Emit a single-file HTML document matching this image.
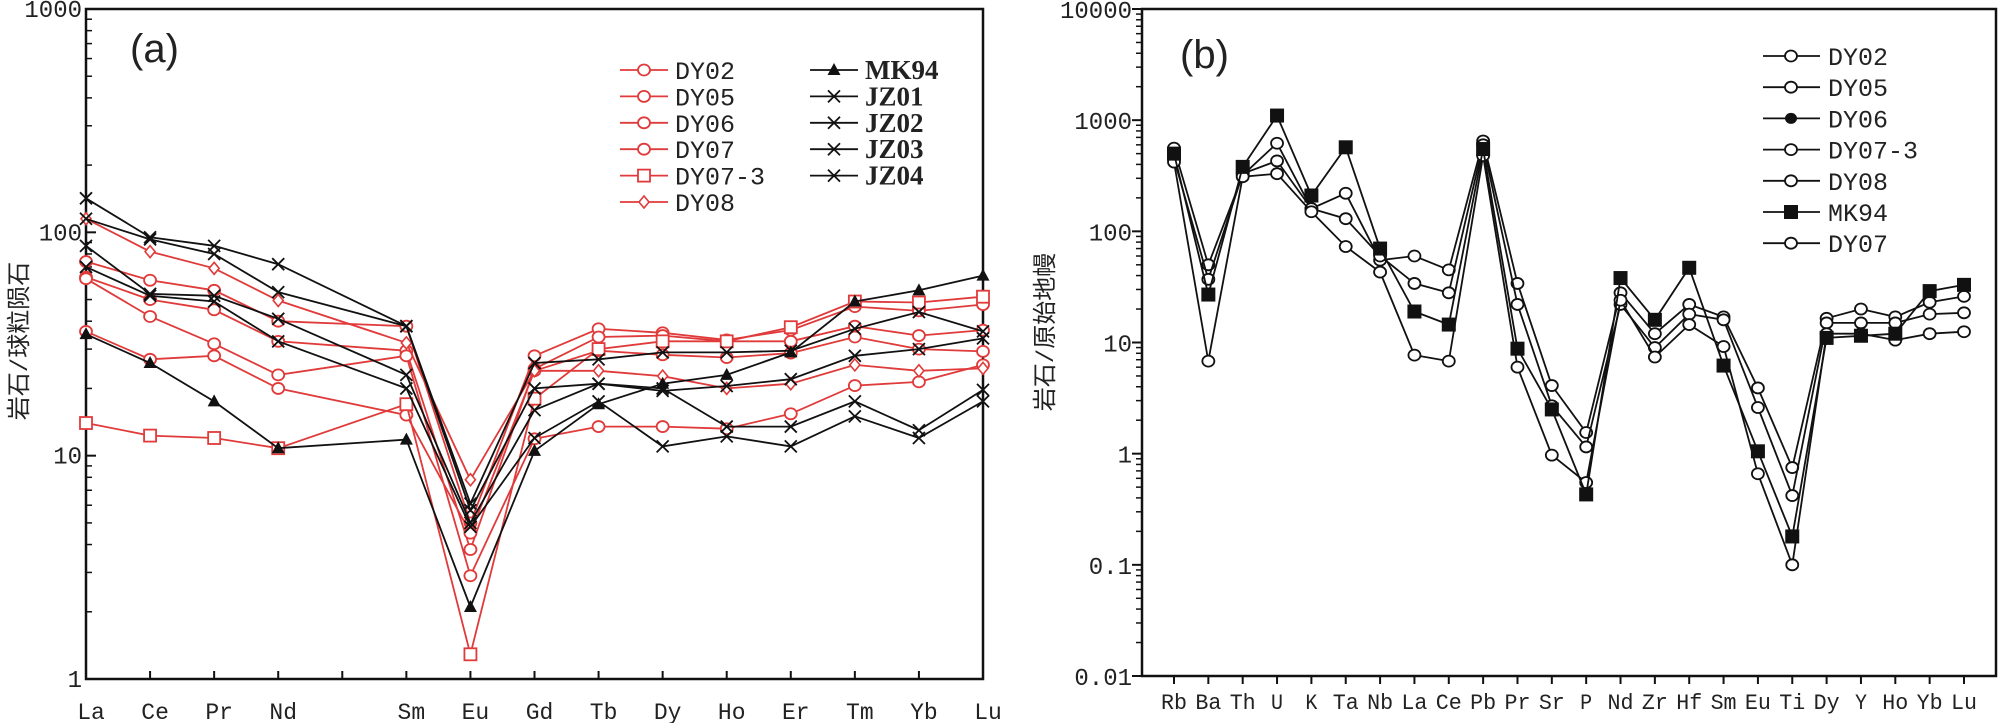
<!DOCTYPE html>
<html><head><meta charset="utf-8"><style>
html,body{margin:0;padding:0;background:#fff;width:2008px;height:723px;overflow:hidden}
svg{display:block}
text{font-family:"Liberation Mono","Noto Sans CJK SC",monospace;fill:#222}
</style></head><body>
<svg id="chart" width="2008" height="723" viewBox="0 0 2008 723"></svg>
<script>
// ===== Panel (a) data =====
const catsA = ["La","Ce","Pr","Nd","","Sm","Eu","Gd","Tb","Dy","Ho","Er","Tm","Yb","Lu"];
const ticksA = [1,10,100,1000];
const namesA = ["DY02","DY05","DY06","DY07","DY07-3","DY08","MK94","JZ01","JZ02","JZ03","JZ04"];
const dy02 = [74,61,55,40,null,38,5,28,37,35.5,33,36.5,46.5,44.5,47.5];
const dy05 = [63,50,45,32.5,null,29.5,3.8,24.5,34,34.5,32.5,32.5,38,34.5,36.5];
const dy06 = [62,42,31.7,23,null,28,2.9,11.9,13.5,13.5,13.2,15.4,20.6,21.4,25.5];
const dy07 = [36,27,28,20,null,15.2,4.5,24,29.5,28.3,27.5,28.8,34,30,29.3];
const dy073 = [14,12.3,12,10.8,null,17,1.29,18,30,32.5,32.5,37.6,49,48.5,51.5];
const dy08 = [115,82,69,49.5,null,32,7.8,24,24,22.7,20,21,25.5,24,24.6];
const mk94a = [35,26,17.5,10.8,null,11.8,2.1,10.5,17,21,23,29,49,55,64];
const jz01 = [142,95,87,72,null,38,6.1,26,27,29,29,29.5,37,44,36];
const jz02 = [115,93,80,54,null,38,5.7,20,21,19.5,20.5,22,28,30,33.5];
const jz03 = [87,53,52,41,null,23,5.0,16,21,20,13.5,13.5,17.5,13,19.7];
const jz04 = [70,52,49,32.5,null,20,4.8,12,17.5,11,12.2,11,15,12,17.5];

// ===== Panel (b) data =====
const catsB = ["Rb","Ba","Th","U","K","Ta","Nb","La","Ce","Pb","Pr","Sr","P","Nd","Zr","Hf","Sm","Eu","Ti","Dy","Y","Ho","Yb","Lu"];
const ticksB = [0.01,0.1,1,10,100,1000,10000];
const tickLabelsB = ["0.01","0.1","1","10","100","1000","10000"];
const namesB = ["DY02","DY05","DY06","DY07-3","DY08","MK94","DY07"];
const bC1 = [560,50,320,620,160,220,55,60,45,650,34,4.1,1.55,28,12,22,17,3.9,0.75,16.5,20,17,23,26];
const bC2 = [450,37,330,430,160,130,60,34,28,600,22,2.7,1.15,22,9,18,16,2.6,0.42,15,15,15,18,18.5];
const bC3 = [420,6.8,310,330,150,73,43,7.7,6.8,480,6,0.97,0.55,24,7.4,14.5,9.2,0.66,0.1,12,12,10.5,12,12.5];
const bMK = [500,27,380,1100,210,570,70,19,14.5,550,8.8,2.5,0.43,38,16,47,6.2,1.05,0.18,11,11.5,12,29,33];

const NS="http://www.w3.org/2000/svg";
const svg=document.getElementById('chart');
function mk(tag,attrs,parent){const e=document.createElementNS(NS,tag);for(const k in attrs)e.setAttribute(k,attrs[k]);(parent||svg).appendChild(e);return e;}

const A={x0:86,x1:983,y0:679,y1:9,lmin:0,lmax:3};
const B={x0:1142,x1:1996,y0:676,y1:9,lmin:-2,lmax:4};
function xA(i){return A.x0+i*(A.x1-A.x0)/(catsA.length-1);}
function yA(v){return A.y0-(Math.log10(v)-A.lmin)/(A.lmax-A.lmin)*(A.y0-A.y1);}
const bx0=1174,bx1=1964;
function xB(i){return bx0+i*(bx1-bx0)/(catsB.length-1);}
function yB(v){return B.y0-(Math.log10(v)-B.lmin)/(B.lmax-B.lmin)*(B.y0-B.y1);}

function marker(g,type,x,y,col){
  let e;
  if(type==='circle'){e=mk('ellipse',{cx:x,cy:y,rx:6,ry:5.5,fill:'#fff',stroke:col,'stroke-width':1.8},g);}
  else if(type==='fcircle'){e=mk('ellipse',{cx:x,cy:y,rx:6,ry:5.5,fill:col},g);}
  else if(type==='square'){e=mk('rect',{x:x-6,y:y-6,width:12,height:12,fill:'#fff',stroke:col,'stroke-width':1.8},g);}
  else if(type==='fsquare'){e=mk('rect',{x:x-7,y:y-7,width:14,height:14,fill:col},g);}
  else if(type==='diamond'){e=mk('polygon',{points:`${x},${y-6} ${x+5},${y} ${x},${y+6} ${x-5},${y}`,fill:'#fff',stroke:col,'stroke-width':1.6},g);}
  else if(type==='tri'){e=mk('polygon',{points:`${x},${y-7} ${x+6.5},${y+5} ${x-6.5},${y+5}`,fill:col},g);}
  else if(type==='cross'){e=mk('path',{d:`M${x-6},${y-6}L${x+6},${y+6}M${x+6},${y-6}L${x-6},${y+6}`,stroke:col,'stroke-width':1.8},g);}
  
  
}
function series(vals,fx,fy,col,type,name){
  const g=mk('g',{});
  
  
  let d='';
  vals.forEach((v,i)=>{if(v==null)return;d+=(d?'L':'M')+fx(i).toFixed(1)+','+fy(v).toFixed(1);});
  const p=mk('path',{d:d,fill:'none',stroke:col,'stroke-width':1.8},g);
  
  
  vals.forEach((v,i)=>{if(v==null)return;marker(g,type,fx(i),fy(v),col);});
}

// ===== Panel A =====
const fa=mk('rect',{x:A.x0,y:A.y1,width:A.x1-A.x0,height:A.y0-A.y1,fill:'none',stroke:'#111','stroke-width':2.5});


for(let d=0;d<3;d++){for(let m=2;m<=9;m++){const y=yA(m*Math.pow(10,d));const t=mk('line',{x1:A.x0,x2:A.x0+6,y1:y,y2:y,stroke:'#111','stroke-width':1.5});

}}
ticksA.forEach(v=>{const y=yA(v);const t=mk('line',{x1:A.x0,x2:A.x0+10,y1:y,y2:y,stroke:'#111','stroke-width':2});


const l=mk('text',{x:A.x0-4,y:y+8,'text-anchor':'end','font-size':24});l.textContent=String(v);

});
catsA.forEach((c,i)=>{const x=xA(i);const t=mk('line',{x1:x,x2:x,y1:A.y0,y2:A.y0-8,stroke:'#111','stroke-width':2});


if(c){const l=mk('text',{x:x+5,y:719,'text-anchor':'middle','font-size':23});l.textContent=c;

}});
let ta=mk('text',{x:0,y:0,'font-size':24,transform:'translate(27,341) rotate(-90)','text-anchor':'middle','fill':'#333'});ta.textContent='岩石/球粒陨石';


let pa=mk('text',{x:130,y:62,'font-size':40,style:'font-family:"Liberation Sans",sans-serif'});pa.textContent='(a)';



const red='#e03a3a',blk='#111';
const serA=[[dy02,red,'circle'],[dy05,red,'circle'],[dy06,red,'circle'],[dy07,red,'circle'],[dy073,red,'square'],[dy08,red,'diamond'],[mk94a,blk,'tri'],[jz01,blk,'cross'],[jz02,blk,'cross'],[jz03,blk,'cross'],[jz04,blk,'cross']];
serA.forEach((s,k)=>series(s[0],xA,yA,s[1],s[2],namesA[k]));
serA.forEach((s,k)=>{const red6=k<6;const lx=red6?620:810;const y=red6?70+k*26.4:70+(k-6)*26.4;
const g=mk('g',{});


mk('line',{x1:lx,x2:lx+48,y1:y,y2:y,stroke:s[1],'stroke-width':1.8},g);
marker(g,s[2],lx+24,y,s[1]);
const t=mk('text',{x:lx+55,y:y+9,'font-size':red6?25:27,style:red6?'':'font-family:"Liberation Serif",serif;font-weight:bold'},g);t.textContent=namesA[k];});

// ===== Panel B =====
const fb=mk('rect',{x:B.x0,y:B.y1,width:B.x1-B.x0,height:B.y0-B.y1,fill:'none',stroke:'#111','stroke-width':2.5});


for(let d=-2;d<4;d++){for(let m=2;m<=9;m++){const y=yB(m*Math.pow(10,d));const t=mk('line',{x1:B.x0-6,x2:B.x0,y1:y,y2:y,stroke:'#111','stroke-width':1.5});

}}
ticksB.forEach((v,i)=>{const y=yB(v);const t=mk('line',{x1:B.x0-10,x2:B.x0,y1:y,y2:y,stroke:'#111','stroke-width':2});


const l=mk('text',{x:B.x0-10,y:y+9,'text-anchor':'end','font-size':24});l.textContent=tickLabelsB[i];

});
catsB.forEach((c,i)=>{const x=xB(i);const t=mk('line',{x1:x,x2:x,y1:B.y0,y2:B.y0+8,stroke:'#111','stroke-width':2});


const l=mk('text',{x:x,y:709,'text-anchor':'middle','font-size':22,'textLength':c.length>1?26:12,'lengthAdjust':'spacingAndGlyphs'});l.textContent=c;

});
let tb=mk('text',{x:0,y:0,'font-size':24,transform:'translate(1053,332) rotate(-90)','text-anchor':'middle','fill':'#333'});tb.textContent='岩石/原始地幔';


let pb=mk('text',{x:1180,y:68,'font-size':40,style:'font-family:"Liberation Sans",sans-serif'});pb.textContent='(b)';



series(bC1,xB,yB,blk,'circle','DY02');
series(bC2,xB,yB,blk,'circle','DY05');
series(bC3,xB,yB,blk,'circle','DY07');
series(bMK,xB,yB,blk,'fsquare','MK94');
const legTypes=['circle','circle','fcircle','circle','circle','fsquare','circle'];
namesB.forEach((n,k)=>{const y=56+k*31.2;
const g=mk('g',{});


mk('line',{x1:1763,x2:1820,y1:y,y2:y,stroke:blk,'stroke-width':1.8},g);
marker(g,legTypes[k],1791,y,blk);
const t=mk('text',{x:1828,y:y+9,'font-size':25},g);t.textContent=n;});
</script>
</body></html>
